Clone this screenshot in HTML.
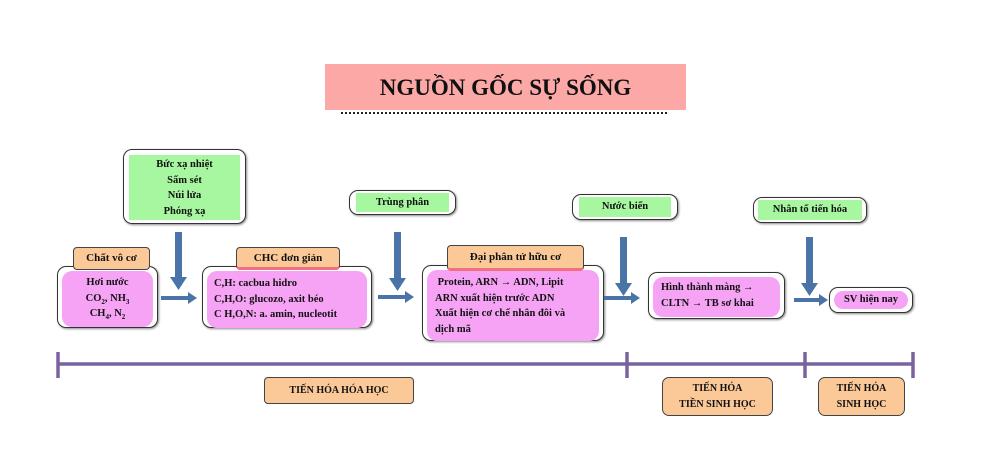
<!DOCTYPE html>
<html><head><meta charset="utf-8"><style>
body{margin:0;width:986px;height:472px;background:#fff;position:relative;overflow:hidden;font-family:"Liberation Serif",serif;font-weight:bold;color:#111}
.a{position:absolute;box-sizing:border-box}
.ob{border:1.5px solid #333;border-radius:9px;background:#fff;box-shadow:1px 1px 2px #888}
.g{background:#a6f7a0}
.p{background:#f7a3f5;border-radius:10px}
.o{background:#fbc898;border:1.5px solid #444;border-radius:4px;text-align:center;font-size:11px}
.t{font-size:10.5px;line-height:15.5px}
.c{text-align:center}
sub{font-size:7px;line-height:0}
</style></head><body>
<div class="a" style="left:325px;top:64px;width:361px;height:46px;background:#fba8a6;font-size:23px;text-align:center;line-height:48px;font-weight:bold;">NGUỒN GỐC SỰ SỐNG</div>
<div class="a" style="left:341px;top:112px;width:326px;height:0;border-top:2px dotted #222"></div>

<div class="a ob" style="left:123px;top:149px;width:123px;height:75px;padding:5px"><div class="g t c" style="height:100%;padding-top:2px">Bức xạ nhiệt<br>Sấm sét<br>Núi lửa<br>Phóng xạ</div></div>

<div class="a ob" style="left:57px;top:266px;width:101px;height:62px;padding:4px"><div class="p t c" style="height:100%;padding-top:4px">Hơi nước<br>CO<sub>2</sub>, NH<sub>3</sub><br>CH<sub>4</sub>, N<sub>2</sub></div></div>
<div class="a o" style="left:73px;top:247px;width:77px;height:23px;line-height:21px">Chất vô cơ</div>

<div class="a ob" style="left:202px;top:266px;width:170px;height:62px;padding:4px"><div class="p t" style="height:100%;padding:5px 0 0 7px">C,H:  cacbua hidro<br>C,H,O: glucozo, axit béo<br>C H,O,N:  a. amin, nucleotit</div></div>
<div class="a o" style="left:236px;top:247px;width:104px;height:23px;line-height:21px;border-bottom:3px solid #f07080">CHC đơn giản</div>

<div class="a ob" style="left:349px;top:190px;width:107px;height:25px;padding:2px 6px"><div class="g t c" style="height:100%;line-height:19px">Trùng phân</div></div>

<div class="a ob" style="left:422px;top:265px;width:182px;height:76px;padding:4px"><div class="p t" style="height:100%;padding:5px 0 0 8px">&nbsp;Protein, ARN → ADN, Lipit<br>ARN xuất hiện trước ADN<br>Xuất hiện cơ chế nhân đôi và<br>dịch mã</div></div>
<div class="a o" style="left:447px;top:245px;width:137px;height:26px;line-height:23px;border-bottom:3px solid #f07080">Đại phân tử hữu cơ</div>

<div class="a ob" style="left:572px;top:194px;width:106px;height:26px;padding:2px 6px"><div class="g t c" style="height:100%;line-height:19px">Nước biển</div></div>

<div class="a ob" style="left:648px;top:272px;width:137px;height:47px;padding:4px"><div class="p t" style="height:100%;padding:3px 0 0 8px">Hình thành màng →<br>CLTN → TB sơ khai</div></div>

<div class="a ob" style="left:753px;top:197px;width:114px;height:26px;padding:2px 4px"><div class="g t c" style="height:100%;line-height:19px">Nhân tố tiến hóa</div></div>

<div class="a ob" style="left:829px;top:287px;width:84px;height:26px;padding:3px 4px"><div class="p t c" style="height:100%;line-height:18px;border-radius:9px">SV hiện nay</div></div>

<svg class="a" style="left:0;top:0" width="986" height="472">
<g fill="#4a74a8">
<rect x="175" y="232" width="7" height="45"/><polygon points="170,277 187,277 178.5,290"/>
<rect x="394" y="232" width="7" height="46"/><polygon points="389,278 406,278 397.5,291"/>
<rect x="620" y="237" width="7" height="46"/><polygon points="615,283 632,283 623.5,296"/>
<rect x="806" y="237" width="7" height="46"/><polygon points="801,283 818,283 809.5,296"/>
<rect x="161" y="296" width="28" height="4"/><polygon points="188,292 197,298 188,304"/>
<rect x="378" y="295" width="28" height="4"/><polygon points="405,291 414,297 405,303"/>
<rect x="604" y="296" width="28" height="4"/><polygon points="631,292 640,298 631,304"/>
<rect x="794" y="298" width="26" height="4"/><polygon points="819,294 828,300 819,306"/>
</g>
<g stroke="#7a62a0" stroke-width="3.5">
<line x1="58" y1="364" x2="913" y2="364"/>
<line x1="58" y1="352" x2="58" y2="378"/>
<line x1="627" y1="352" x2="627" y2="378"/>
<line x1="805" y1="352" x2="805" y2="378"/>
<line x1="913" y1="352" x2="913" y2="378"/>
</g>
</svg>

<div class="a o" style="left:264px;top:377px;width:150px;height:27px;line-height:25px;font-size:10px">TIẾN HÓA HÓA HỌC</div>
<div class="a o" style="left:662px;top:377px;width:111px;height:39px;line-height:16px;font-size:10px;padding-top:3px;border-radius:7px">TIẾN HÓA<br>TIỀN SINH HỌC</div>
<div class="a o" style="left:818px;top:377px;width:87px;height:39px;line-height:16px;font-size:10px;padding-top:3px;border-radius:7px">TIẾN HÓA<br>SINH HỌC</div>
</body></html>
